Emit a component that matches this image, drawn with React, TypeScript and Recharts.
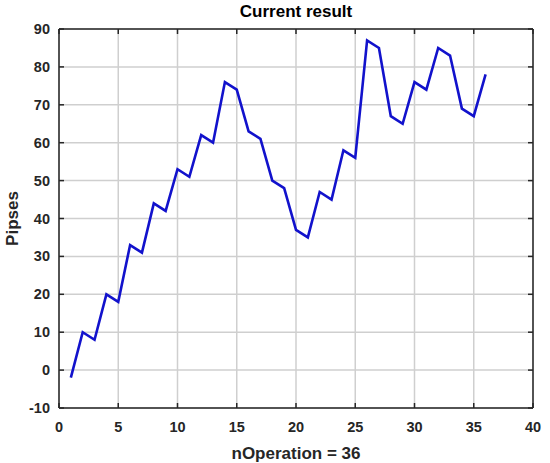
import { LineChart, Line, XAxis, YAxis, CartesianGrid } from 'recharts';

const operations = [
  1, 2, 3, 4, 5, 6, 7, 8, 9, 10, 11, 12, 13, 14, 15, 16, 17, 18,
  19, 20, 21, 22, 23, 24, 25, 26, 27, 28, 29, 30, 31, 32, 33, 34, 35, 36,
];
const pipses = [
  -2, 10, 8, 20, 18, 33, 31, 44, 42, 53, 51, 62, 60, 76, 74, 63, 61, 50,
  48, 37, 35, 47, 45, 58, 56, 87, 85, 67, 65, 76, 74, 85, 83, 69, 67, 78,
];
const xTicks = [0, 5, 10, 15, 20, 25, 30, 35, 40];
const yTicks = [-10, 0, 10, 20, 30, 40, 50, 60, 70, 80, 90];

const data = operations.map((n, i) => ({ n, pips: pipses[i] }));

const FONT = '"Liberation Sans", Arial, sans-serif';
const AXIS = '#262626';
const TICK_LEN = 5;

const textStyle = { fontFamily: FONT, fontWeight: 700, fontSize: 14.5, fill: '#262626' };
const labelStyle = { fontFamily: FONT, fontWeight: 700, fontSize: 17, fill: '#262626' };

const BottomTick = ({ x, y, payload }: any) => (
  <g>
    <line x1={x} x2={x} y1={y} y2={y - TICK_LEN} stroke={AXIS} strokeWidth={1.5} />
    <text x={x} y={y + 24} textAnchor="middle" style={textStyle}>{payload.value}</text>
  </g>
);
const TopTick = ({ x, y }: any) => (
  <line x1={x} x2={x} y1={y} y2={y + TICK_LEN} stroke={AXIS} strokeWidth={1.5} />
);
const LeftTick = ({ x, y, payload }: any) => (
  <g>
    <line x1={x} x2={x + TICK_LEN} y1={y} y2={y} stroke={AXIS} strokeWidth={1.5} />
    <text x={x - 9} y={y + 5} textAnchor="end" style={textStyle}>{payload.value}</text>
  </g>
);
const RightTick = ({ x, y }: any) => (
  <line x1={x} x2={x - TICK_LEN} y1={y} y2={y} stroke={AXIS} strokeWidth={1.5} />
);

export default function App() {
  return (
    <div style={{ position: 'absolute', left: 0, top: 0, width: 550, height: 463, background: '#fff' }}>
      <div
        style={{
          position: 'absolute',
          left: 59,
          width: 474,
          top: 2,
          textAlign: 'center',
          fontFamily: FONT,
          fontWeight: 700,
          fontSize: 17,
          color: '#000',
        }}
      >
        Current result
      </div>
      <LineChart width={550} height={463} data={data} margin={{ top: 0, right: 0, left: 0, bottom: 0 }}>
        <CartesianGrid stroke="#cfcfcf" strokeWidth={1.5} />
        <XAxis
          dataKey="n"
          type="number"
          domain={[0, 40]}
          ticks={xTicks}
          height={55}
          tickSize={0}
          tickMargin={0}
          tickLine={false}
          axisLine={{ stroke: AXIS, strokeWidth: 1.5 }}
          tick={<BottomTick />}
          label={{
            value: 'nOperation = 36',
            position: 'insideBottom',
            offset: 4,
            style: labelStyle,
          }}
        />
        <XAxis
          xAxisId="top"
          dataKey="n"
          orientation="top"
          type="number"
          domain={[0, 40]}
          ticks={xTicks}
          height={29}
          tickSize={0}
          tickMargin={0}
          tickLine={false}
          axisLine={{ stroke: AXIS, strokeWidth: 1.5 }}
          tick={<TopTick />}
        />
        <YAxis
          type="number"
          domain={[-10, 90]}
          ticks={yTicks}
          width={59}
          tickSize={0}
          tickMargin={0}
          tickLine={false}
          axisLine={{ stroke: AXIS, strokeWidth: 1.5 }}
          tick={<LeftTick />}
          label={{
            value: 'Pipses',
            angle: -90,
            position: 'insideLeft',
            offset: 12,
            style: { ...labelStyle, textAnchor: 'middle' },
          }}
        />
        <YAxis
          yAxisId="right"
          orientation="right"
          type="number"
          domain={[-10, 90]}
          ticks={yTicks}
          width={17}
          tickSize={0}
          tickMargin={0}
          tickLine={false}
          axisLine={{ stroke: AXIS, strokeWidth: 1.5 }}
          tick={<RightTick />}
        />
        <Line
          xAxisId="top"
          yAxisId="right"
          dataKey="pips"
          stroke="none"
          dot={false}
          activeDot={false}
          isAnimationActive={false}
        />
        <Line
          dataKey="pips"
          stroke="#1212CC"
          strokeWidth={2.6}
          dot={false}
          isAnimationActive={false}
        />
      </LineChart>
    </div>
  );
}
